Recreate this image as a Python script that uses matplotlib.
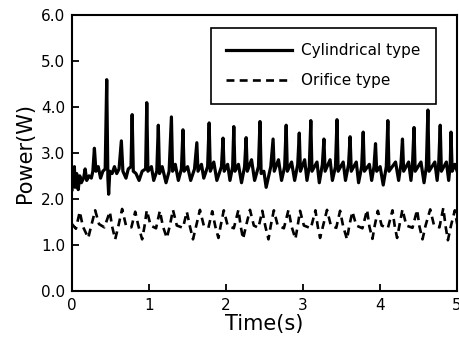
import matplotlib
matplotlib.use("Agg")
import matplotlib.pyplot as plt

# Cylindrical type (time s, power W)
cyl_time = [
    0.00, 0.01, 0.02, 0.03, 0.04, 0.06, 0.08, 0.10, 0.12, 0.15, 0.17, 0.19,
    0.22, 0.25, 0.27, 0.29, 0.31, 0.34, 0.37, 0.40, 0.43, 0.45, 0.465, 0.475,
    0.49, 0.52, 0.55, 0.58, 0.61, 0.64, 0.66, 0.70, 0.73, 0.765, 0.78, 0.795,
    0.83, 0.87, 0.91, 0.955, 0.97, 0.985, 1.03, 1.06, 1.10, 1.12, 1.135, 1.17,
    1.22, 1.26, 1.29, 1.305, 1.34, 1.38, 1.42, 1.44, 1.455, 1.50, 1.54, 1.59,
    1.62, 1.635, 1.68, 1.71, 1.76, 1.78, 1.795, 1.84, 1.88, 1.94, 1.96, 1.975,
    2.02, 2.05, 2.085, 2.10, 2.115, 2.16, 2.20, 2.24, 2.26, 2.275, 2.33, 2.37,
    2.42, 2.44, 2.455, 2.49, 2.52, 2.58, 2.61, 2.625, 2.68, 2.72, 2.76, 2.78,
    2.795, 2.85, 2.89, 2.93, 2.95, 2.965, 3.02, 3.05, 3.08, 3.10, 3.115, 3.18,
    3.21, 3.25, 3.27, 3.285, 3.35, 3.38, 3.42, 3.44, 3.455, 3.52, 3.55, 3.59,
    3.61, 3.625, 3.69, 3.72, 3.76, 3.78, 3.795, 3.86, 3.89, 3.92, 3.94, 3.955,
    4.00, 4.04, 4.08, 4.10, 4.115, 4.20, 4.24, 4.27, 4.29, 4.305, 4.37, 4.40,
    4.42, 4.44, 4.455, 4.53, 4.57, 4.60, 4.62, 4.635, 4.71, 4.74, 4.76, 4.78,
    4.795, 4.86, 4.89, 4.91, 4.92, 4.935, 4.97, 5.00,
]
cyl_power = [
    2.20, 2.60, 2.30, 2.70, 2.25, 2.55, 2.20, 2.50, 2.35, 2.45, 2.65, 2.40,
    2.50, 2.45, 2.60, 3.10, 2.60, 2.70, 2.45, 2.60, 2.65, 4.59, 2.45, 2.10,
    2.60, 2.55, 2.70, 2.55, 2.65, 3.26, 2.60, 2.45, 2.65, 2.70, 3.83, 2.60,
    2.55, 2.40, 2.60, 2.65, 4.09, 2.60, 2.70, 2.40, 2.60, 3.60, 2.55, 2.70,
    2.35, 2.60, 3.78, 2.60, 2.75, 2.40, 2.65, 3.50, 2.60, 2.70, 2.40, 2.65,
    3.22, 2.60, 2.75, 2.45, 2.70, 3.65, 2.60, 2.80, 2.40, 2.70, 3.32, 2.60,
    2.75, 2.40, 2.70, 3.57, 2.60, 2.75, 2.35, 2.70, 3.33, 2.60, 2.85, 2.40,
    2.70, 3.68, 2.55, 2.60, 2.25, 2.70, 3.30, 2.60, 2.85, 2.40, 2.70, 3.60,
    2.60, 2.80, 2.40, 2.75, 3.43, 2.60, 2.85, 2.40, 2.70, 3.70, 2.60, 2.80,
    2.35, 2.75, 3.30, 2.60, 2.85, 2.40, 2.70, 3.72, 2.60, 2.80, 2.40, 2.75,
    3.35, 2.60, 2.80, 2.35, 2.70, 3.45, 2.60, 2.75, 2.40, 2.70, 3.20, 2.60,
    2.70, 2.30, 2.70, 3.70, 2.60, 2.80, 2.40, 2.75, 3.30, 2.60, 2.80, 2.40,
    2.75, 3.55, 2.60, 2.80, 2.35, 2.70, 3.93, 2.60, 2.80, 2.40, 2.75, 3.60,
    2.60, 2.80, 2.40, 2.75, 3.45, 2.60, 2.75, 2.60,
]

# Orifice type
ori_time = [
    0.00, 0.05, 0.10, 0.14, 0.21, 0.25, 0.30, 0.35, 0.42, 0.49, 0.52, 0.56,
    0.60, 0.65, 0.70, 0.77, 0.82, 0.86, 0.91, 0.94, 0.97, 1.02, 1.09, 1.14,
    1.18, 1.23, 1.27, 1.31, 1.36, 1.44, 1.49, 1.53, 1.57, 1.61, 1.66, 1.71,
    1.77, 1.82, 1.86, 1.90, 1.93, 1.97, 2.02, 2.10, 2.16, 2.19, 2.22, 2.26,
    2.31, 2.36, 2.42, 2.47, 2.51, 2.55, 2.58, 2.62, 2.67, 2.75, 2.81, 2.85,
    2.90, 2.93, 2.96, 3.01, 3.10, 3.16, 3.19, 3.22, 3.26, 3.31, 3.36, 3.43,
    3.48, 3.52, 3.57, 3.60, 3.64, 3.69, 3.77, 3.83, 3.86, 3.90, 3.93, 3.97,
    4.02, 4.10, 4.16, 4.19, 4.22, 4.25, 4.29, 4.34, 4.42, 4.48, 4.51, 4.55,
    4.59, 4.65, 4.70, 4.77, 4.82, 4.85, 4.88, 4.92, 4.97, 5.00,
]
ori_power = [
    1.45, 1.35, 1.72, 1.40, 1.15, 1.42, 1.75, 1.45, 1.38, 1.72, 1.40, 1.12,
    1.40, 1.78, 1.42, 1.38, 1.72, 1.42, 1.12, 1.40, 1.75, 1.42, 1.36, 1.74,
    1.40, 1.15, 1.42, 1.76, 1.42, 1.37, 1.72, 1.40, 1.12, 1.40, 1.76, 1.42,
    1.37, 1.73, 1.40, 1.15, 1.42, 1.75, 1.42, 1.36, 1.76, 1.40, 1.13, 1.42,
    1.76, 1.42, 1.37, 1.74, 1.40, 1.12, 1.42, 1.75, 1.42, 1.36, 1.76, 1.40,
    1.13, 1.42, 1.74, 1.42, 1.36, 1.75, 1.40, 1.15, 1.42, 1.76, 1.42, 1.37,
    1.74, 1.40, 1.12, 1.42, 1.72, 1.42, 1.36, 1.76, 1.40, 1.13, 1.42, 1.74,
    1.42, 1.36, 1.75, 1.40, 1.15, 1.42, 1.77, 1.42, 1.37, 1.76, 1.40, 1.12,
    1.42, 1.77, 1.42, 1.38, 1.80, 1.40, 1.10, 1.42, 1.75, 1.45,
]

x_ticks = [0, 1, 2, 3, 4, 5]
y_ticks = [0.0, 1.0, 2.0, 3.0, 4.0, 5.0, 6.0]

plt.rcParams['font.family'] = ['DejaVu Sans']

fig = plt.figure(figsize=(4.59, 3.45), dpi=100)
ax = fig.add_axes([0.157, 0.157, 0.839, 0.800])

ax.plot(cyl_time, cyl_power, color='black', lw=2.3, label='Cylindrical type')
ax.plot(ori_time, ori_power, color='black', lw=1.9, linestyle=(0, (3, 2)),
        label='Orifice type')

ax.set_xlim(0, 5)
ax.set_ylim(0, 6)
ax.set_xticks(x_ticks)
ax.set_yticks(y_ticks)
ax.set_xticklabels([str(t) for t in x_ticks])
ax.set_yticklabels([f'{v:.1f}' for v in y_ticks])
ax.tick_params(direction='in', length=5, width=1.3, labelsize=11, pad=5)
for s in ax.spines.values():
    s.set_linewidth(1.5)

ax.set_xlabel('Time(s)', fontsize=15, labelpad=1)
ax.set_ylabel('Power(W)', fontsize=15, labelpad=4)

leg = ax.legend(loc='upper right', bbox_to_anchor=(0.945, 0.953), fontsize=11,
                frameon=True, fancybox=False, edgecolor='black', framealpha=1,
                borderpad=1.0, labelspacing=1.0, handlelength=4.3,
                handletextpad=0.6, borderaxespad=0)
leg.get_frame().set_linewidth(1.2)

fig.savefig('out.png', dpi=100)
